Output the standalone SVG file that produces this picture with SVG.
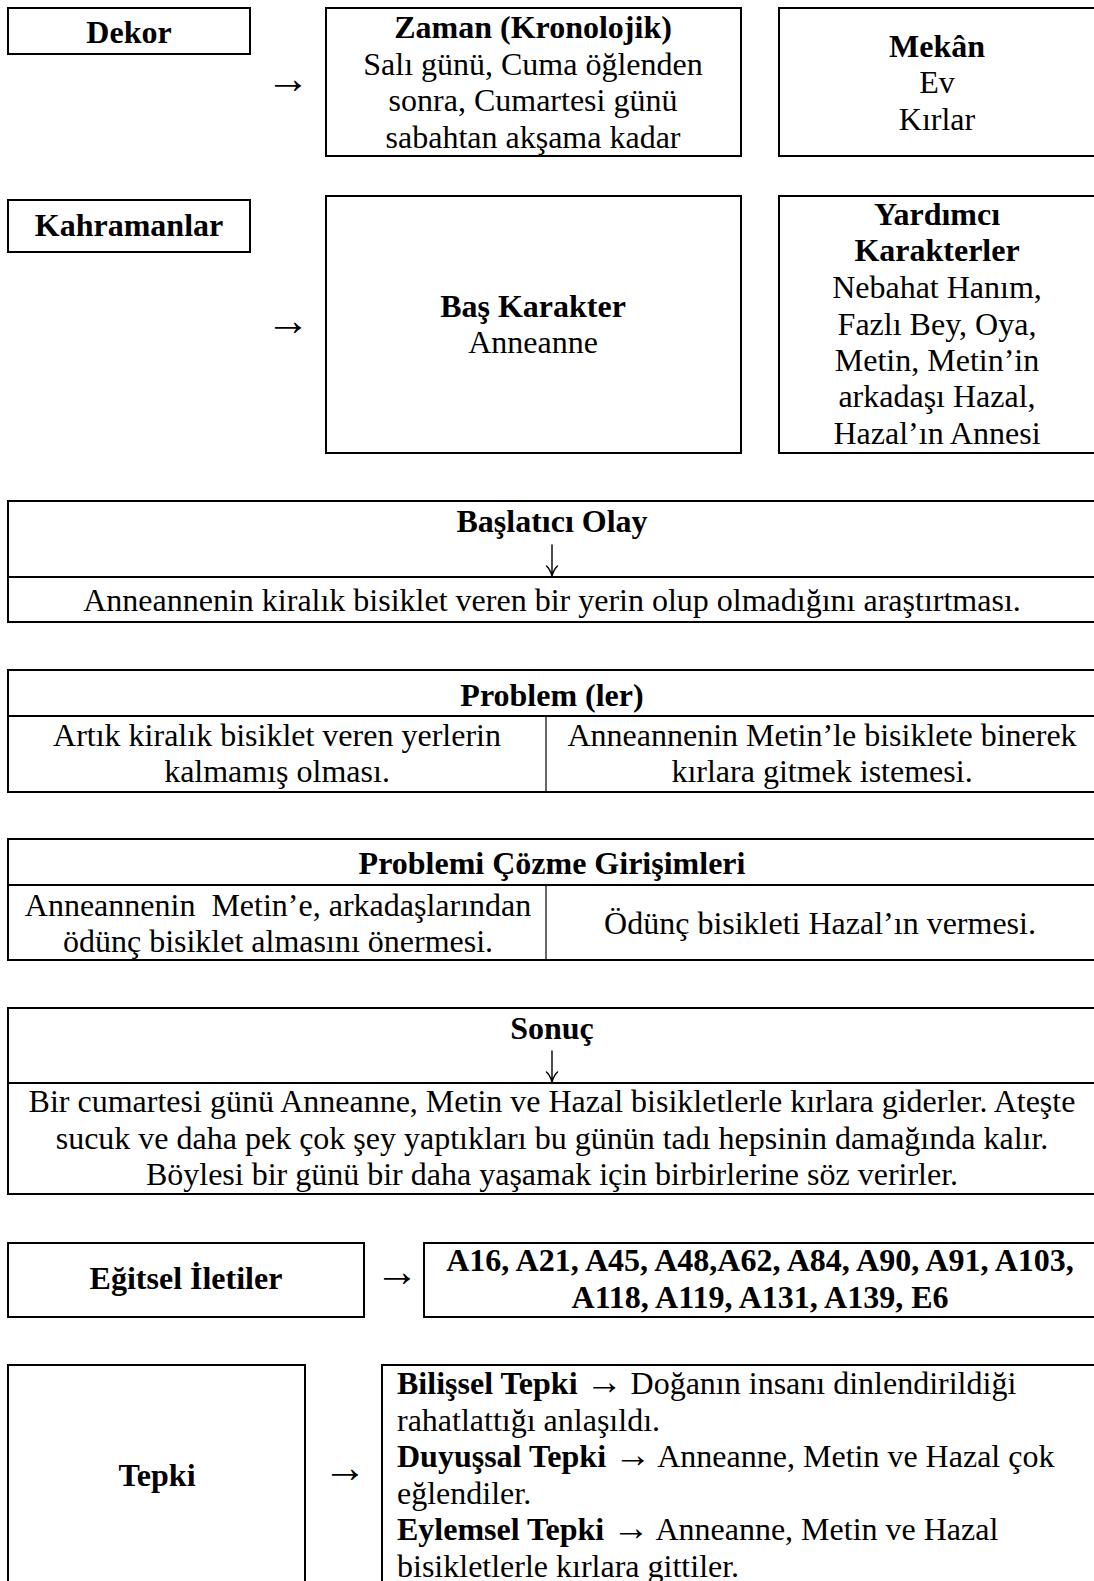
<svg xmlns="http://www.w3.org/2000/svg" width="1094" height="1581" viewBox="0 0 1094 1581">
<style>
.box{fill:#fff;stroke:#000;stroke-width:2}
.ln{stroke:#000;stroke-width:2}
.vln{stroke:#000;stroke-width:1.2}
.dar{fill:none;stroke:#000;stroke-width:1.4;stroke-linecap:round;stroke-linejoin:round}
text{font-family:"Liberation Serif","Times New Roman",serif;font-size:32px;fill:#000}
.c{text-anchor:middle}
.b{font-weight:bold}
.ar{font-size:44px}
.ia{font-size:37px;font-weight:normal}
</style>
<rect width="1094" height="1581" fill="#fff"/>
<g id="dekor"><rect class="box" x="8" y="8" width="242" height="46"/><text class="c b" x="129" y="43">Dekor</text></g>
<g id="zaman"><rect class="box" x="326" y="8" width="415" height="148"/>
<text class="c b" x="533" y="38">Zaman (Kronolojik)</text>
<text class="c" x="533" y="74.5">Salı günü, Cuma öğlenden</text>
<text class="c" x="533" y="111">sonra, Cumartesi günü</text>
<text class="c" x="533" y="148">sabahtan akşama kadar</text></g>
<g id="mekan"><rect class="box" x="779" y="8" width="320" height="148"/>
<text class="c b" x="937" y="57">Mekân</text>
<text class="c" x="937" y="93">Ev</text>
<text class="c" x="937" y="130">Kırlar</text></g>
<g id="kahramanlar"><rect class="box" x="8" y="200" width="242" height="52"/><text class="c b" x="129" y="236">Kahramanlar</text></g>
<g id="bas-karakter"><rect class="box" x="326" y="196" width="415" height="257"/>
<text class="c b" x="533" y="317">Baş Karakter</text>
<text class="c" x="533" y="353">Anneanne</text></g>
<g id="yardimci"><rect class="box" x="779" y="196" width="320" height="257"/>
<text class="c b" x="937" y="225">Yardımcı</text>
<text class="c b" x="937" y="261">Karakterler</text>
<text class="c" x="937" y="298">Nebahat Hanım,</text>
<text class="c" x="937" y="335">Fazlı Bey, Oya,</text>
<text class="c" x="937" y="371">Metin, Metin’in</text>
<text class="c" x="937" y="407">arkadaşı Hazal,</text>
<text class="c" x="937" y="444">Hazal’ın Annesi</text></g>
<g id="baslatici"><rect class="box" x="8" y="501" width="1090" height="121"/>
<line class="ln" x1="8" y1="577" x2="1098" y2="577"/>
<text class="c b" x="552" y="532">Başlatıcı Olay</text>
<text class="c" x="552" y="611">Anneannenin kiralık bisiklet veren bir yerin olup olmadığını araştırtması.</text></g>
<g id="problemler"><rect class="box" x="8" y="670" width="1090" height="122"/>
<line class="ln" x1="8" y1="716" x2="1098" y2="716"/>
<line class="vln" x1="546" y1="716" x2="546" y2="792"/>
<text class="c b" x="552" y="706">Problem (ler)</text>
<text class="c" x="277" y="746">Artık kiralık bisiklet veren yerlerin</text>
<text class="c" x="277" y="782">kalmamış olması.</text>
<text class="c" x="822" y="746">Anneannenin Metin’le bisiklete binerek</text>
<text class="c" x="822" y="782">kırlara gitmek istemesi.</text></g>
<g id="cozme"><rect class="box" x="8" y="839" width="1090" height="121"/>
<line class="ln" x1="8" y1="885" x2="1098" y2="885"/>
<line class="vln" x1="546" y1="885" x2="546" y2="960"/>
<text class="c b" x="552" y="874">Problemi Çözme Girişimleri</text>
<text class="c" x="278" y="916" xml:space="preserve">Anneannenin  Metin’e, arkadaşlarından</text>
<text class="c" x="278" y="951.5">ödünç bisiklet almasını önermesi.</text>
<text class="c" x="820" y="934">Ödünç bisikleti Hazal’ın vermesi.</text></g>
<g id="sonuc"><rect class="box" x="8" y="1008" width="1090" height="186"/>
<line class="ln" x1="8" y1="1083" x2="1098" y2="1083"/>
<text class="c b" x="552" y="1039">Sonuç</text>
<text class="c" x="552" y="1112">Bir cumartesi günü Anneanne, Metin ve Hazal bisikletlerle kırlara giderler. Ateşte</text>
<text class="c" x="552" y="1149">sucuk ve daha pek çok şey yaptıkları bu günün tadı hepsinin damağında kalır.</text>
<text class="c" x="552" y="1185">Böylesi bir günü bir daha yaşamak için birbirlerine söz verirler.</text></g>
<g id="egitsel"><rect class="box" x="8" y="1243" width="356" height="74"/><text class="c b" x="186" y="1289">Eğitsel İletiler</text></g>
<g id="iletiler"><rect class="box" x="424" y="1243" width="674" height="74"/>
<text class="c b" x="760" y="1271">A16, A21, A45, A48,A62, A84, A90, A91, A103,</text>
<text class="c b" x="760" y="1308">A118, A119, A131, A139, E6</text></g>
<g id="tepki"><rect class="box" x="8" y="1365" width="297" height="230"/><text class="c b" x="157" y="1486">Tepki</text></g>
<g id="tepkiler"><rect class="box" x="382" y="1365" width="716" height="230"/>
<text x="397" y="1394"><tspan class="b">Bilişsel Tepki</tspan> <tspan class="ia">→</tspan> Doğanın insanı dinlendirildiği</text>
<text x="397" y="1431">rahatlattığı anlaşıldı.</text>
<text x="397" y="1467"><tspan class="b">Duyuşsal Tepki</tspan> <tspan class="ia">→</tspan> Anneanne, Metin ve Hazal çok</text>
<text x="397" y="1504">eğlendiler.</text>
<text x="397" y="1540"><tspan class="b">Eylemsel Tepki</tspan> <tspan class="ia">→</tspan> Anneanne, Metin ve Hazal</text>
<text x="397" y="1577">bisikletlerle kırlara gittiler.</text></g>
<g id="connectors">
<text class="c ar" x="288" y="93">→</text>
<text class="c ar" x="288" y="335">→</text>
<text class="c ar" x="397" y="1286">→</text>
<text class="c ar" x="345" y="1482">→</text>
<path class="dar" d="M552,545 V575.5 M546.5,566 Q550,569 552,576 Q554,569 557.5,566"/>
<path class="dar" d="M552,1051 V1081.5 M546.5,1072 Q550,1075 552,1082 Q554,1075 557.5,1072"/>
</g>
</svg>
